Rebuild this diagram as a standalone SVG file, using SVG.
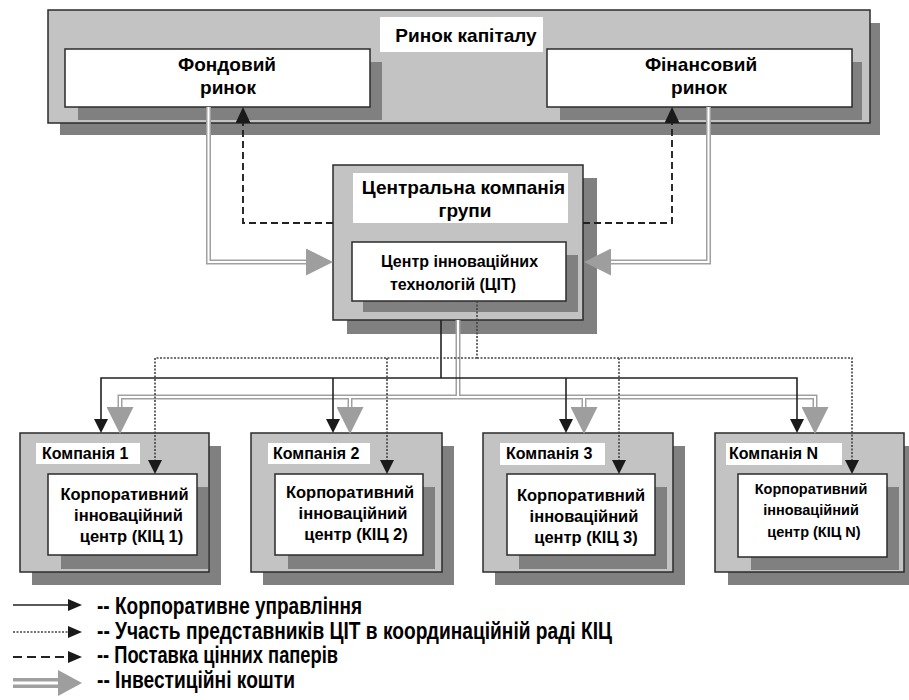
<svg xmlns="http://www.w3.org/2000/svg" width="909" height="700" viewBox="0 0 909 700">
<style>
.shadow{fill:#808080}
.outer{fill:#c3c3c3;stroke:#2b2b2b;stroke-width:1.5}
.inner{fill:#ffffff;stroke:#2b2b2b;stroke-width:1.5}
.lbl{fill:#ffffff}
text{font-family:"Liberation Sans",Arial,sans-serif;font-weight:bold;fill:#000}
.t19{font-size:19px}
.t16{font-size:16px}
.t165{font-size:16.5px}
.t145{font-size:14.5px}
.mid{text-anchor:middle}
.leg{font-size:23px}
.solid{fill:none;stroke:#222;stroke-width:1.6}
.dot{fill:none;stroke:#444;stroke-width:1.6;stroke-dasharray:2 1.5}
.dash{fill:none;stroke:#222;stroke-width:1.9;stroke-dasharray:7 4}
.invo{fill:none;stroke:#a0a0a0;stroke-width:5}
.invi{fill:none;stroke:#ffffff;stroke-width:2}
</style>
<defs>
<marker id="ab" markerUnits="userSpaceOnUse" viewBox="0 0 14 14" markerWidth="14" markerHeight="14" refX="0" refY="7" orient="auto"><path d="M0,0 L14,7 L0,14 Z" fill="#1a1a1a"/></marker>
<marker id="ad" markerUnits="userSpaceOnUse" viewBox="0 0 16 15" markerWidth="16" markerHeight="15" refX="0" refY="7.5" orient="auto"><path d="M0,0 L16,7.5 L0,15 Z" fill="#1a1a1a"/></marker>
<marker id="ag" markerUnits="userSpaceOnUse" viewBox="0 0 27 27" markerWidth="27" markerHeight="27" refX="0" refY="13.5" orient="auto"><path d="M0,0 L27,13.5 L0,27 Z" fill="#9e9e9e"/></marker>
<marker id="al" markerUnits="userSpaceOnUse" viewBox="0 0 14 12" markerWidth="14" markerHeight="12" refX="0" refY="6" orient="auto"><path d="M0,0 L14,6 L0,12 Z" fill="#1a1a1a"/></marker>
<marker id="agl" markerUnits="userSpaceOnUse" viewBox="0 0 24 26" markerWidth="24" markerHeight="26" refX="0" refY="13" orient="auto"><path d="M0,0 L24,13 L0,26 Z" fill="#9e9e9e"/></marker>
</defs>

<g id="capital-market">
<rect class="shadow" x="60" y="23" width="820" height="112"/>
<rect class="outer" x="48" y="10" width="822" height="113"/>
<rect class="lbl" x="380" y="17" width="163" height="35"/>
<text class="t19 mid" x="466" y="42">Ринок капіталу</text>
</g>
<g id="stock-market">
<rect class="shadow" x="78" y="62" width="304" height="58"/>
<rect class="inner" x="65" y="49" width="305" height="58"/>
<text class="t19 mid" x="227" y="71">Фондовий</text>
<text class="t19 mid" x="228" y="94">ринок</text>
</g>
<g id="financial-market">
<rect class="shadow" x="560" y="62" width="302" height="58"/>
<rect class="inner" x="547" y="49" width="305" height="58"/>
<text class="t19 mid" x="701" y="71">Фінансовий</text>
<text class="t19 mid" x="699" y="94">ринок</text>
</g>

<g id="central-company">
<rect class="shadow" x="347" y="178" width="250" height="156"/>
<rect class="outer" x="333" y="165" width="250" height="155"/>
<rect class="lbl" x="353" y="173" width="215" height="50"/>
<text class="t19 mid" x="463.5" y="194">Центральна компанія</text>
<text class="t19 mid" x="465" y="217">групи</text>
</g>
<g id="cit">
<rect class="shadow" x="363" y="255" width="215" height="57"/>
<rect class="inner" x="352" y="242" width="214" height="59"/>
<text class="t16 mid" x="459.5" y="267">Центр інноваційних</text>
<text class="t16 mid" x="453" y="290">технологій (ЦІТ)</text>
</g>

<g id="company-1">
<rect class="shadow" x="32" y="446" width="189" height="139"/>
<rect class="outer" x="20" y="433" width="189" height="139"/>
<rect class="lbl" x="36" y="443" width="104" height="21"/>
<text class="t16" x="42" y="459">Компанія 1</text>
<rect class="shadow" x="61" y="487" width="147" height="82"/>
<rect class="inner" x="48" y="474" width="149" height="81"/>
<text class="t165 mid" x="124.5" y="500">Корпоративний</text>
<text class="t165 mid" x="128.5" y="521">інноваційний</text>
<text class="t165 mid" x="131.5" y="542">центр (КІЦ 1)</text>
</g>
<g id="company-2">
<rect class="shadow" x="263" y="446" width="191" height="139"/>
<rect class="outer" x="251" y="433" width="191" height="139"/>
<rect class="lbl" x="268" y="443" width="102" height="21"/>
<text class="t16" x="273" y="459">Компанія 2</text>
<rect class="shadow" x="288" y="487" width="147" height="82"/>
<rect class="inner" x="275" y="474" width="148" height="81"/>
<text class="t165 mid" x="350" y="498">Корпоративний</text>
<text class="t165 mid" x="353" y="519">інноваційний</text>
<text class="t165 mid" x="356" y="540">центр (КІЦ 2)</text>
</g>
<g id="company-3">
<rect class="shadow" x="495" y="446" width="190" height="139"/>
<rect class="outer" x="483" y="433" width="190" height="139"/>
<rect class="lbl" x="500" y="443" width="105" height="22"/>
<text class="t16" x="506" y="459">Компанія 3</text>
<rect class="shadow" x="519" y="487" width="148" height="82"/>
<rect class="inner" x="507" y="474" width="148" height="81"/>
<text class="t165 mid" x="581" y="501">Корпоративний</text>
<text class="t165 mid" x="584" y="522">інноваційний</text>
<text class="t165 mid" x="586" y="543">центр (КІЦ 3)</text>
</g>
<g id="company-n">
<rect class="shadow" x="728" y="446" width="189" height="139"/>
<rect class="outer" x="715" y="433" width="189" height="139"/>
<rect class="lbl" x="726" y="443" width="116" height="22"/>
<text class="t16" x="729" y="459">Компанія N</text>
<rect class="shadow" x="751" y="487" width="148" height="83"/>
<rect class="inner" x="738" y="474" width="149" height="83"/>
<text class="t145 mid" x="811" y="494">Корпоративний</text>
<text class="t145 mid" x="811" y="515">інноваційний</text>
<text class="t145 mid" x="814" y="537">центр (КІЦ N)</text>
</g>

<g id="connectors">
<path class="invo" d="M208.5,107 V262 H306" marker-end="url(#ag)"/>
<path class="invo" d="M708.5,107 V262 H611" marker-end="url(#ag)"/>
<path class="invo" d="M458,320 V397"/>
<path class="invo" d="M458,397 H120 V407" marker-end="url(#ag)"/>
<path class="invo" d="M458,397 H815 V407" marker-end="url(#ag)"/>
<path class="invo" d="M350,397 V407" marker-end="url(#ag)"/>
<path class="invo" d="M584,397 V407" marker-end="url(#ag)"/>
<path class="invi" d="M208.5,107 V262 H306"/>
<path class="invi" d="M708.5,107 V262 H611"/>
<path class="invi" d="M458,320 V397"/>
<path class="invi" d="M458,397 H120 V407"/>
<path class="invi" d="M458,397 H815 V407"/>
<path class="invi" d="M350,397 V407"/>
<path class="invi" d="M584,397 V407"/>
<path class="dash" d="M333,223 H243 V123" marker-end="url(#ad)"/>
<path class="dash" d="M583,223 H672 V123" marker-end="url(#ad)"/>
<path class="solid" d="M441,320 V378"/>
<path class="solid" d="M441,378 H101 V419" marker-end="url(#ab)"/>
<path class="solid" d="M441,378 H797 V419" marker-end="url(#ab)"/>
<path class="solid" d="M333,378 V419" marker-end="url(#ab)"/>
<path class="solid" d="M566,378 V419" marker-end="url(#ab)"/>
<path class="dot" d="M477,301 V358"/>
<path class="dot" d="M477,358 H155 V460" marker-end="url(#ab)"/>
<path class="dot" d="M477,358 H852 V460" marker-end="url(#ab)"/>
<path class="dot" d="M387,358 V460" marker-end="url(#ab)"/>
<path class="dot" d="M619,358 V460" marker-end="url(#ab)"/>
</g>

<g id="legend">
<path class="solid" d="M13,605 H68" marker-end="url(#al)"/>
<text class="leg" x="97" y="614" textLength="265" lengthAdjust="spacingAndGlyphs">-- Корпоративне управління</text>
<path class="dot" d="M13,632 H68" marker-end="url(#al)"/>
<text class="leg" x="97" y="639" textLength="515" lengthAdjust="spacingAndGlyphs">-- Участь представників ЦІТ в координаційній раді КІЦ</text>
<path class="dash" d="M13,657 H68" style="stroke-dasharray:9 5" marker-end="url(#al)"/>
<text class="leg" x="97" y="663" textLength="241" lengthAdjust="spacingAndGlyphs">-- Поставка цінних паперів</text>
<path class="invo" d="M13,683 H58" style="stroke-width:10" marker-end="url(#agl)"/>
<path class="invi" d="M13,683 H58" style="stroke-width:3"/>
<text class="leg" x="97" y="688" textLength="198" lengthAdjust="spacingAndGlyphs">-- Інвестиційні кошти</text>
</g>
</svg>
